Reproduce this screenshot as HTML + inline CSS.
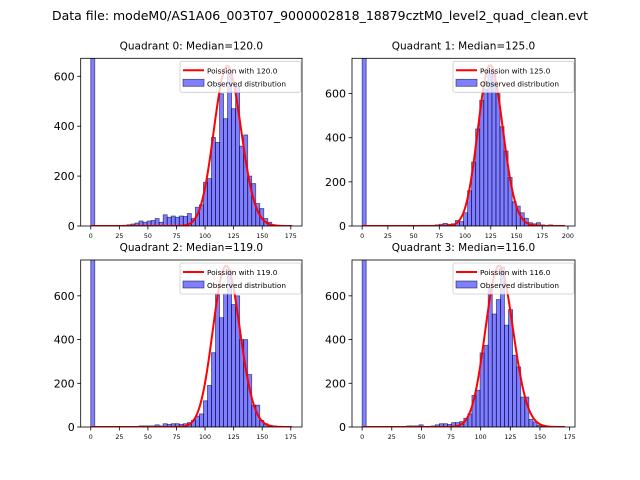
<!DOCTYPE html>
<html><head><meta charset="utf-8">
<style>
html,body{margin:0;padding:0;background:#fff;}
svg{display:block;font-family:"DejaVu Sans","Liberation Sans",sans-serif;}
</style></head>
<body>
<svg id="fig" width="640" height="480" viewBox="0 0 640 480" xmlns="http://www.w3.org/2000/svg">
<text x="320" y="20" font-size="12" text-anchor="middle" textLength="536" lengthAdjust="spacingAndGlyphs">Data file: modeM0/AS1A06_003T07_9000002818_18879cztM0_level2_quad_clean.evt</text>
</svg>
<script>
// ---- data ----
const quadrantNames = ["Quadrant 0","Quadrant 1","Quadrant 2","Quadrant 3"];
const medians = [120.0, 125.0, 119.0, 116.0];
const binWidths = [3.52, 3.94, 3.52, 3.43];
const counts0 = [700,0,0,0,0,0,0,0,3,5,8,12,20,15,20,22,30,15,45,35,40,35,40,38,50,30,75,85,175,190,355,335,530,430,610,470,560,320,365,200,170,90,70,30,15,5,3,0,0,2];
const counts1 = [800,0,0,0,0,0,0,0,0,0,0,0,0,0,3,3,3,3,5,8,12,8,10,25,20,60,160,290,440,570,620,710,690,600,450,340,220,110,90,60,35,15,10,15,5,3,5,0,2,2];
const counts2 = [800,0,0,0,0,0,0,0,0,0,0,0,5,5,5,5,10,5,15,12,15,15,12,15,20,30,50,60,120,190,340,610,500,610,720,560,600,400,400,240,100,100,30,15,8,5,2,0,0,0];
const counts3 = [800,0,0,0,0,0,0,0,0,0,0,5,5,5,10,3,3,5,10,15,15,12,20,20,25,40,60,145,168,339,374,636,517,583,733,466,537,328,275,137,137,35,23,8,3,0,0,0,0,0];
const curvePeaks = [640, 728, 737, 737];
const yMax = [672, 760, 764, 764];
const xMax = [176, 197, 176, 171];
const xTicks0 = [0,25,50,75,100,125,150,175];
const xTicks1 = [0,25,50,75,100,125,150,175,200];
const yTicks = [0,200,400,600];

const allCounts=[counts0,counts1,counts2,counts3];
const allXTicks=[xTicks0,xTicks1,xTicks0,xTicks0];
const boxes=[[80.7,58.3,302,226],[352,58.3,575,226],[80.7,260,302,427],[352,260,575,427]];
const NS="http://www.w3.org/2000/svg";
const svg=document.getElementById('fig');
function mk(tag,attrs,parent){const e=document.createElementNS(NS,tag);for(const k in attrs)e.setAttribute(k,attrs[k]);(parent||svg).appendChild(e);return e;}
function lgamma(z){let s=0;while(z<8){s-=Math.log(z);z+=1;}return s+(z-0.5)*Math.log(z)-z+0.5*Math.log(2*Math.PI)+1/(12*z)-1/(360*z*z*z);}
function logpmf(k,l){return k*Math.log(l)-l-lgamma(k+1);}

for(let q=0;q<4;q++){
  const [L,T,R,B]=boxes[q];
  const g=mk('g',{});
  
  
  const span=xMax[q]*1.1, x0=-xMax[q]*0.05;
  const sx=v=>L+(v-x0)/span*(R-L);
  const sy=v=>B-v/yMax[q]*(B-T);
  const clipId='clip'+q;
  const cp=mk('clipPath',{id:clipId},g);mk('rect',{x:L,y:T,width:R-L,height:B-T},cp);
  const plot=mk('g',{'clip-path':'url(#'+clipId+')'},g);
  const c=allCounts[q],bw=binWidths[q];
  for(let i=0;i<c.length;i++){
    if(c[i]<=0)continue;
    const r=mk('rect',{x:sx(i*bw),y:sy(c[i]),width:sx((i+1)*bw)-sx(i*bw),height:B-sy(c[i]),fill:'rgba(0,0,255,0.5)',stroke:'rgba(0,0,50,0.6)','stroke-width':0.8},plot);
    
    
  }
  const lam=medians[q],pk=logpmf(Math.round(lam),lam);
  let d='';
  for(let k=0;k<=Math.floor(xMax[q]);k+=0.5){const kk=lam+(k-lam)/1.08;const v=curvePeaks[q]*Math.exp(logpmf(kk,lam)-pk);d+=(k?'L':'M')+sx(k).toFixed(2)+','+sy(v).toFixed(2);}
  const p=mk('path',{d:d,fill:'none',stroke:'#ff0000','stroke-width':2},plot);
  
  
  const fr=mk('rect',{x:L,y:T,width:R-L,height:B-T,fill:'none',stroke:'#000','stroke-width':0.8},g);
  
  
  for(const t of allXTicks[q]){
    mk('line',{x1:sx(t),x2:sx(t),y1:B,y2:B+3.5,stroke:'#000','stroke-width':0.8},g);
    const tx=mk('text',{x:sx(t),y:B+12,'font-size':6.3,'text-anchor':'middle'},g);tx.textContent=t;
    
    
  }
  for(const t of yTicks){
    mk('line',{x1:L,x2:L-3.5,y1:sy(t),y2:sy(t),stroke:'#000','stroke-width':0.8},g);
    const ty=mk('text',{x:L-6,y:sy(t)+4,'font-size':11,'text-anchor':'end'},g);ty.textContent=t;
    
    
  }
  const tt=mk('text',{x:(L+R)/2,y:T-9,'font-size':10.5,'text-anchor':'middle'},g);
  tt.textContent=quadrantNames[q]+': Median='+medians[q].toFixed(1);
  
  
  // legend
  const lg=mk('g',{},g);
  
  
  const lx=R-122,ly=T+3;
  mk('rect',{x:lx,y:ly,width:121,height:31,rx:2,fill:'rgba(255,255,255,0.8)',stroke:'#ccc','stroke-width':0.8},lg);
  mk('line',{x1:lx+3,x2:lx+24,y1:ly+9,y2:ly+9,stroke:'#ff0000','stroke-width':2},lg);
  const l1=mk('text',{x:lx+27,y:ly+12,'font-size':7.3},lg);l1.textContent='Poission with '+medians[q].toFixed(1);
  
  
  mk('rect',{x:lx+3,y:ly+18,width:21,height:7,fill:'rgba(0,0,255,0.5)',stroke:'rgba(0,0,50,0.6)','stroke-width':0.8},lg);
  const l2=mk('text',{x:lx+27,y:ly+25,'font-size':7.3},lg);l2.textContent='Observed distribution';
  
  
}
</script>
</body></html>
